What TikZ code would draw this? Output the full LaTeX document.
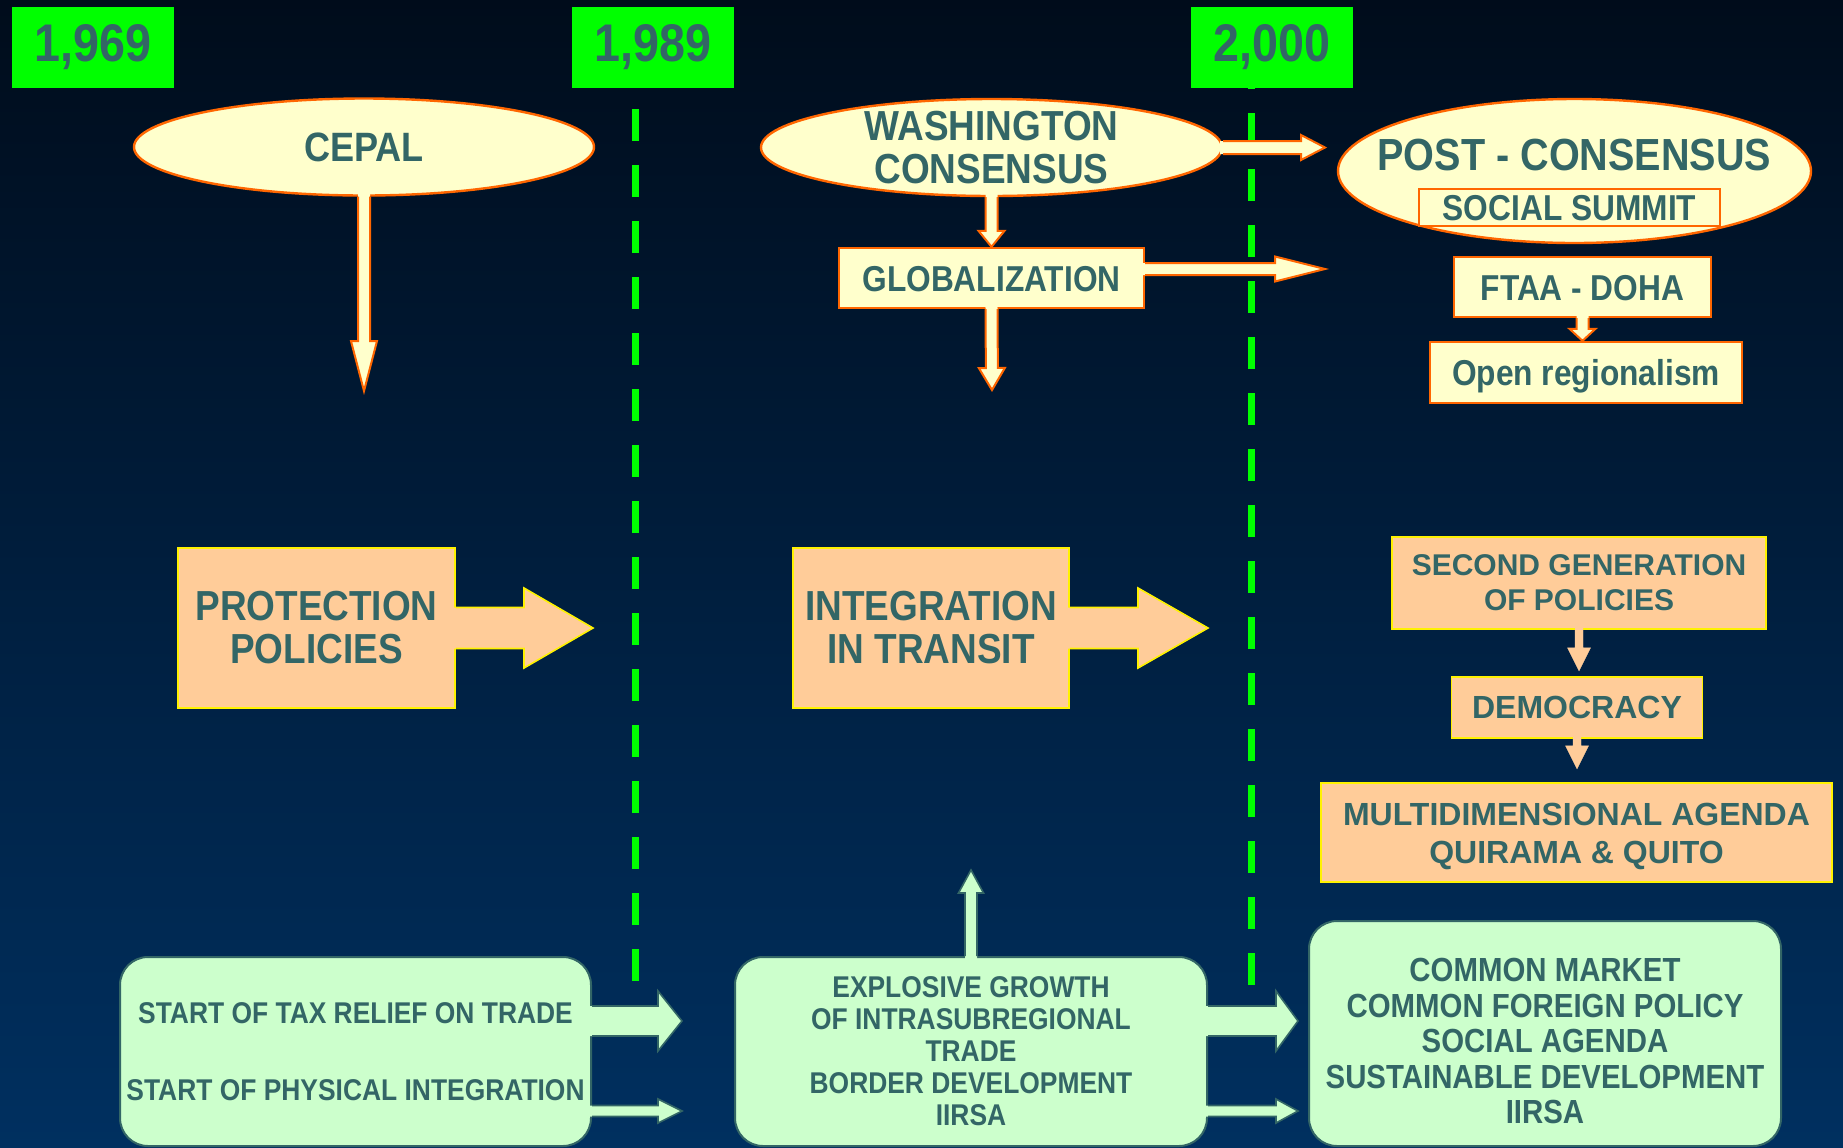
\documentclass[tikz,border=0pt]{standalone}
\usepackage{fontspec}
\setmainfont{Liberation Sans}
\newfontfamily\narrowfont{Liberation Sans}[FakeStretch=0.88]
\usepackage{tikz}
\usetikzlibrary{
  calc,
  shapes
}
\definecolor{bgtop}{RGB}{0,12,27}
\definecolor{bgmid}{RGB}{0,38,74}
\definecolor{bgbot}{RGB}{0,48,96}
\definecolor{yeargreen}{RGB}{0,255,0}
\definecolor{tealtext}{RGB}{51,102,102}
\definecolor{paleyellow}{RGB}{255,255,204}
\definecolor{pptorange}{RGB}{255,102,0}
\definecolor{peach}{RGB}{255,204,153}
\definecolor{palegreen}{RGB}{204,255,204}

% block arrow: style, from, to, half shaft, half head, head length
\newcommand{\fatarrow}[6][]{%
  \coordinate (fa-s) at (#2);
  \coordinate (fa-t) at (#3);
  \coordinate (fa-h) at ($(fa-t)!#6!(fa-s)$);
  \coordinate (fa-b) at ($(fa-s)!-1.5pt!(fa-t)$);
  \fill[#1,draw=none] ($(fa-b)!#4!90:(fa-t)$) -- ($(fa-h)!#4!90:(fa-t)$)
    -- ($(fa-h)!#5!90:(fa-t)$) -- (fa-t) -- ($(fa-h)!#5!-90:(fa-t)$)
    -- ($(fa-h)!#4!-90:(fa-t)$) -- ($(fa-b)!#4!-90:(fa-t)$) -- cycle;
  \draw[#1,fill=none] ($(fa-s)!#4!90:(fa-t)$) -- ($(fa-h)!#4!90:(fa-t)$)
    -- ($(fa-h)!#5!90:(fa-t)$) -- (fa-t) -- ($(fa-h)!#5!-90:(fa-t)$)
    -- ($(fa-h)!#4!-90:(fa-t)$) -- ($(fa-s)!#4!-90:(fa-t)$);
}

\begin{document}
\begin{tikzpicture}[x=0.5pt, y=-0.5pt,
  year/.style = {fill=yeargreen, text=tealtext, inner sep=0pt,
    minimum width=81pt, minimum height=40.5pt,
    font=\narrowfont\bfseries\fontsize{26.5}{28}\selectfont},
  oval/.style = {ellipse, draw=pptorange, line width=1.2pt, fill=paleyellow,
    text=tealtext, inner sep=0pt, align=center},
  labelbox/.style = {rectangle, draw=pptorange, line width=1.2pt, fill=paleyellow,
    text=tealtext, inner sep=0pt, text height=13pt, text depth=0pt,
    font=\narrowfont\bfseries\fontsize{18}{20}\selectfont},
  policy/.style = {rectangle, draw=yellow, line width=0.8pt, fill=peach,
    text=tealtext, inner sep=0pt, align=center},
  trade/.style = {rectangle, rounded corners=14pt, draw=tealtext, line width=1pt,
    fill=palegreen, text=tealtext, inner sep=0pt, align=center},
  timeline/.style = {draw=yeargreen, line width=3.5pt, dash pattern=on 16pt off 12pt},
  creamarrow/.style = {fill=paleyellow, draw=pptorange, line width=1pt},
  peacharrow/.style = {fill=peach, draw=yellow, line width=0.8pt},
  softarrow/.style = {fill=peach, draw=peach, line width=0.2pt},
  mintarrow/.style = {fill=palegreen, draw=tealtext, line width=0.8pt}]

  \useasboundingbox (0,0) rectangle (1843,1147);
  \shade[top color=bgtop, middle color=bgmid, bottom color=bgbot] (0,0) rectangle (1843,1147);

  % time limits
  \draw[timeline] (635,109) -- (635,981);
  \draw[timeline] (1251,57) -- (1251,985);

  \node[year] (y1969) at (93,47.5) {1,969};
  \node[year] (y1989) at (653,47.5) {1,989};
  \node[year] (y2000) at (1272,47.5) {2,000};

  % top row
  \node[oval, minimum width=230pt, minimum height=48.5pt,
    font=\narrowfont\bfseries\fontsize{20.5}{22}\selectfont] (cepal) at (364,147) {CEPAL};
  \node[oval, minimum width=230.5pt, minimum height=48.5pt, inner ysep=-3pt,
    font=\narrowfont\bfseries\fontsize{21}{21.5}\selectfont] (wash) at (991.5,147.5) {WASHINGTON\\CONSENSUS};
  \node[oval, minimum width=236.5pt, minimum height=72pt, inner xsep=-16pt, text depth=16pt,
    font=\narrowfont\bfseries\fontsize{22.5}{24}\selectfont] (post) at (1574.5,171) {POST - CONSENSUS};
  \node[labelbox, minimum width=150.5pt, minimum height=18.5pt] (summit) at (1569.5,207.5) {SOCIAL SUMMIT};
  \node[labelbox, minimum width=152.5pt, minimum height=30pt] (glob) at (991.5,278) {GLOBALIZATION};
  \node[labelbox, minimum width=128.5pt, minimum height=30pt] (ftaa) at (1582.5,287) {FTAA - DOHA};
  \node[labelbox, minimum width=156pt, minimum height=30.5pt] (openreg) at (1586,372.5) {Open regionalism};

  % middle row
  \node[policy, minimum width=138.5pt, minimum height=80pt,
    font=\narrowfont\bfseries\fontsize{21}{21.5}\selectfont] (protect) at (316.5,628) {PROTECTION\\POLICIES};
  \node[policy, minimum width=138pt, minimum height=80pt,
    font=\narrowfont\bfseries\fontsize{21}{21.5}\selectfont] (transit) at (931,628) {INTEGRATION\\IN TRANSIT};
  \node[policy, minimum width=187pt, minimum height=46pt,
    font=\bfseries\fontsize{15}{17.5}\selectfont] (secondgen) at (1579,583) {SECOND GENERATION\\OF POLICIES};
  \node[policy, minimum width=125.5pt, minimum height=30.5pt,
    font=\bfseries\fontsize{16}{18}\selectfont] (democ) at (1577,707.5) {DEMOCRACY};
  \node[policy, minimum width=255.5pt, minimum height=49.5pt,
    font=\bfseries\fontsize{16}{18.8}\selectfont] (agenda) at (1576.5,832.5)
    {\rule{0pt}{15pt}MULTIDIMENSIONAL AGENDA\\QUIRAMA \& QUITO};

  % bottom row
  \node[trade, minimum width=235.5pt, minimum height=94.5pt,
    font=\narrowfont\bfseries\fontsize{15}{18}\selectfont] (taxrelief) at (355.5,1051.5)
    {START OF TAX RELIEF ON TRADE\\[20.5pt]START OF PHYSICAL INTEGRATION};
  \node[trade, minimum width=236pt, minimum height=94.5pt,
    font=\narrowfont\bfseries\fontsize{15}{16}\selectfont] (growth) at (971,1051.5)
    {EXPLOSIVE GROWTH\\OF INTRASUBREGIONAL\\TRADE\\BORDER DEVELOPMENT\\IIRSA};
  \node[trade, minimum width=236pt, minimum height=112.5pt,
    font=\narrowfont\bfseries\fontsize{16.7}{17.75}\selectfont] (market) at (1545,1033.5)
    {\rule{0pt}{19.5pt}COMMON MARKET\\COMMON FOREIGN POLICY\\SOCIAL AGENDA\\SUSTAINABLE DEVELOPMENT\\IIRSA};

  % arrows
  \coordinate (cepalend) at (364,391);
  \coordinate (globend) at (992,390);
  \coordinate (washend) at (1325,147.5);
  \coordinate (globout) at ($(glob.east)+(0,-9)$);
  \coordinate (globfar) at (1325,269);
  \coordinate (ftaatip) at (ftaa.south |- openreg.north);
  \fatarrow[creamarrow]{cepal.south}{cepalend}{3pt}{6.5pt}{25pt}
  \fatarrow[creamarrow]{wash.south}{glob.north}{3pt}{6.5pt}{8pt}
  \fatarrow[creamarrow]{glob.south}{globend}{3pt}{6.5pt}{11pt}
  \fatarrow[creamarrow]{wash.east}{washend}{3.25pt}{6.25pt}{12pt}
  \fatarrow[creamarrow]{globout}{globfar}{3pt}{6.25pt}{25pt}
  \fatarrow[creamarrow]{ftaa.south}{ftaatip}{3pt}{6.5pt}{6pt}

  \coordinate (protend) at (593,628);
  \coordinate (transend) at (1208,628);
  \coordinate (gentip) at ($(secondgen.south)+(0,41)$);
  \coordinate (democtip) at ($(democ.south)+(0,30)$);
  \fatarrow[peacharrow]{protect.east}{protend}{10.25pt}{20pt}{34.5pt}
  \fatarrow[peacharrow]{transit.east}{transend}{10.25pt}{20pt}{35pt}
  \fatarrow[softarrow]{secondgen.south}{gentip}{2pt}{5.75pt}{11.5pt}
  \fatarrow[softarrow]{democ.south}{democtip}{2pt}{5.75pt}{11.5pt}

  \coordinate (taxout) at ($(taxrelief.east)+(0,-30.5)$);
  \coordinate (taxend) at (682,1021);
  \coordinate (physout) at ($(taxrelief.east)+(0,59.5)$);
  \coordinate (physend) at (682,1111);
  \coordinate (growthout) at ($(growth.east)+(0,-30.5)$);
  \coordinate (growthfar) at (1298,1021);
  \coordinate (borderout) at ($(growth.east)+(0,59.5)$);
  \coordinate (borderfar) at (1298,1111);
  \coordinate (growthup) at (971,870);
  \fatarrow[mintarrow]{taxout}{taxend}{7.5pt}{15pt}{12pt}
  \fatarrow[mintarrow]{physout}{physend}{2.75pt}{6pt}{12pt}
  \fatarrow[mintarrow]{growthout}{growthfar}{7.5pt}{15pt}{11pt}
  \fatarrow[mintarrow]{borderout}{borderfar}{2.75pt}{6pt}{11pt}
  \fatarrow[mintarrow]{growth.north}{growthup}{3pt}{6.25pt}{11.5pt}
\end{tikzpicture}
\end{document}
